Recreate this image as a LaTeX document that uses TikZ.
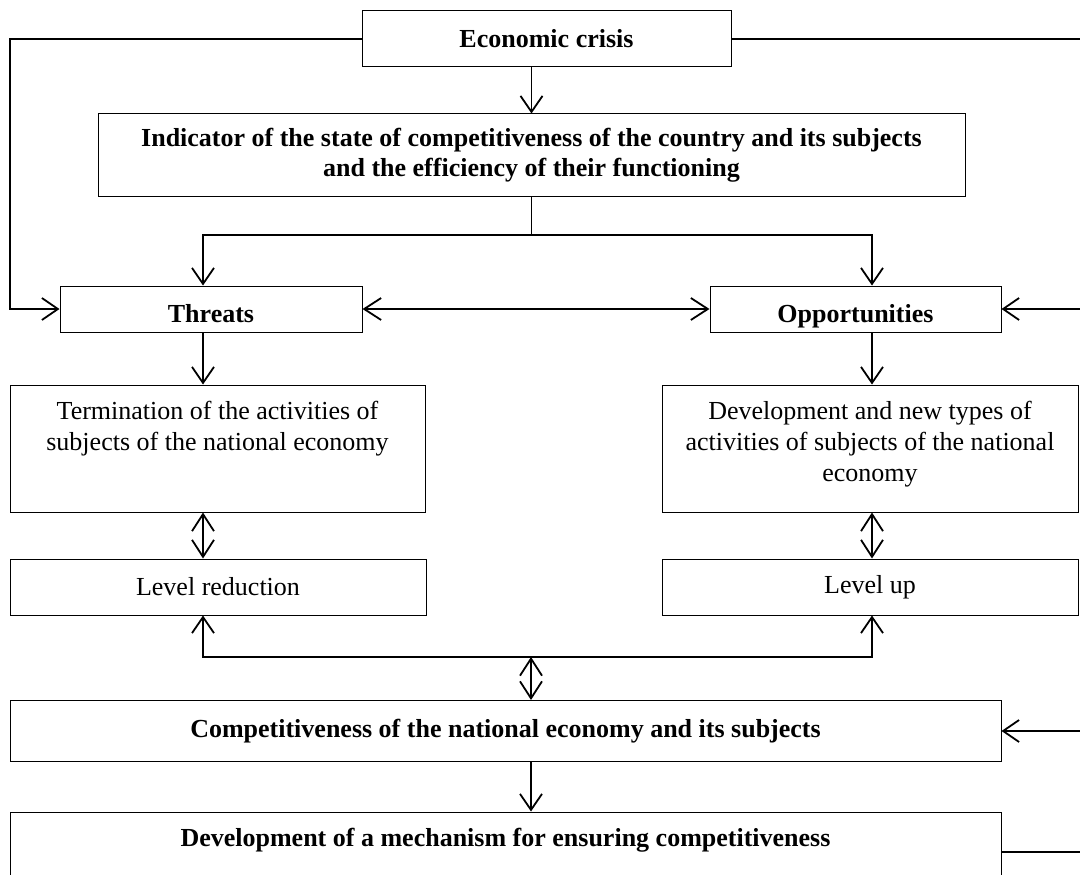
\documentclass[tikz,border=0pt]{standalone}
\usepackage{fontspec}
\setmainfont{Liberation Serif}
\usetikzlibrary{arrows.meta}

\begin{document}
\begin{tikzpicture}[x=1pt, y=-1pt,
    font=\fontsize{26}{31}\selectfont,
    box/.style={draw, line width=1pt, inner sep=0pt, align=flush center},
    boldbox/.style={box, font=\fontsize{26}{30}\selectfont\bfseries},
    conn/.style={line width=1.8pt},
    arr/.style={conn, -{Straight Barb[length=16pt, width=22pt]}},
    darr/.style={conn, {Straight Barb[length=17pt, width=22pt]}-{Straight Barb[length=17pt, width=22pt]}}]
    \clip (0,0) rectangle (1080,875);
    % boxes
    \node[boldbox, minimum width=369pt, minimum height=56pt] (crisis) at (546.5,39) {Economic crisis};
    \node[boldbox, minimum width=867pt, minimum height=82pt] (indicator) at (531.5,155)
        {Indicator of the state of competitiveness of the country and its subjects\\and the efficiency of their functioning};
    \node[boldbox, minimum width=302pt, minimum height=46pt, text height=26pt, text depth=0pt] (threats) at (211,309) {Threats};
    \node[boldbox, minimum width=291pt, minimum height=46pt, text height=26pt, text depth=0pt] (opp) at (855.5,309) {Opportunities};
    \node[box, text width=415pt, text height=34pt, text depth=93pt] (term) at (217.5,448.5)
        {Termination of the activities of\\subjects of the national economy};
    \node[box, text width=416pt, text height=34pt, text depth=93pt] (devtypes) at (870,448.5)
        {Development and new types of\\activities of subjects of the national\\economy};
    \node[box, minimum width=416pt, minimum height=56pt] (lvlred) at (218,587) {Level reduction};
    \node[box, minimum width=416pt, minimum height=56pt] (lvlup) at (870,587) {Level up};
    \node[boldbox, minimum width=991pt, minimum height=61pt] (comp) at (505.5,731)
        {Competitiveness of the national economy and its subjects};
    \node[boldbox, text width=991pt, text height=34pt, text depth=46pt] (dev) at (505.5,852)
        {Development of a mechanism for ensuring competitiveness};
    % rails and junctions
    \coordinate (leftrail) at (10,0);
    \coordinate (rightrail) at (1080,0);
    \coordinate (split) at (531.5,235);
    \coordinate (join) at (531,657);
    \coordinate (lcol) at (203,0);
    \coordinate (rcol) at (872,0);
    % connectors
    \draw[arr] (crisis.west) -| (leftrail |- threats.west) -- (threats.west);
    \draw[conn] (crisis.east) -- (crisis.east -| rightrail);
    \draw[arr] (opp.east -| rightrail) -- (opp.east);
    \draw[arr] (comp.east -| rightrail) -- (comp.east);
    \draw[conn] (dev.east) -- (dev.east -| rightrail);
    \draw[arr] (crisis.south -| indicator.north) -- (indicator.north);
    \draw[conn] (indicator.south) -- (split);
    \draw[arr] (split) -| (lcol |- threats.north);
    \draw[arr] (split) -| (rcol |- opp.north);
    \draw[darr] (threats.east) -- (opp.west);
    \draw[arr] (lcol |- threats.south) -- (lcol |- term.north);
    \draw[arr] (rcol |- opp.south) -- (rcol |- devtypes.north);
    \draw[darr] (lcol |- term.south) -- (lcol |- lvlred.north);
    \draw[darr] (rcol |- devtypes.south) -- (rcol |- lvlup.north);
    \draw[arr] (join) -| (lcol |- lvlred.south);
    \draw[arr] (join) -| (rcol |- lvlup.south);
    \draw[darr] (join) -- (join |- comp.north);
    \draw[arr] (join |- comp.south) -- (join |- dev.north);
\end{tikzpicture}
\end{document}
